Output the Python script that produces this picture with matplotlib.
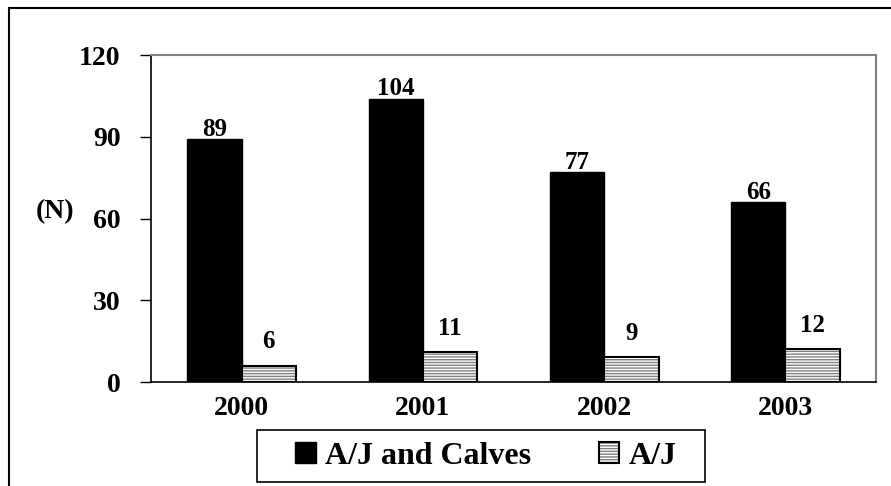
import numpy as np
import matplotlib
matplotlib.use('Agg')
import matplotlib.pyplot as plt
from matplotlib.lines import Line2D
from matplotlib.patches import Rectangle

years = ['2000', '2001', '2002', '2003']
calves = [89, 104, 77, 66]
aj = [6, 11, 9, 12]
yticks = [0, 30, 60, 90, 120]

plt.rcParams['font.family'] = 'Liberation Serif'
plt.rcParams['font.weight'] = 'bold'
plt.rcParams['hatch.linewidth'] = 1.0

fig = plt.figure(figsize=(8.91, 4.86), dpi=100)
ax = fig.add_axes([151/891, 1 - 382/486, (876 - 151)/891, (382 - 55)/486])

x = np.arange(len(years))
w = 0.3
b1 = ax.bar(x - w/2, calves, w, color='black', edgecolor='black', linewidth=1)
b2h = ax.bar(x + w/2, aj, w, color='white', edgecolor='#808080', hatch='------', linewidth=0)
b2 = ax.bar(x + w/2, aj, w, fill=False, edgecolor='black', linewidth=1.5)

ax.bar_label(b1, labels=[str(v) for v in calves], padding=-1, fontsize=18, fontweight='bold')
ax.bar_label(b2, labels=[str(v) for v in aj], padding=9, fontsize=18, fontweight='bold')

ax.set_xlim(-0.5, len(years) - 0.5)
ax.set_ylim(0, 120)
ax.set_yticks(yticks)
ax.set_xticks(x)
ax.set_xticklabels(years)
ax.tick_params(axis='x', length=0, pad=10, labelsize=20)
ax.tick_params(axis='y', length=8, width=1, pad=14, labelsize=20)

ax.spines['top'].set_color('#808080')
ax.spines['right'].set_color('#808080')
ax.spines['top'].set_linewidth(1.5)
ax.spines['right'].set_linewidth(1.5)
ax.spines['left'].set_linewidth(1.2)
ax.spines['bottom'].set_linewidth(1.2)

fig.text(55/891, 1 - 212/486, '(N)', fontsize=20, fontweight='bold', ha='center', va='center')

leg = fig.legend([b1[0], (b2h[0], b2[0])], ['A/J and Calves', 'A/J'],
                 loc='center', bbox_to_anchor=(486/891, 1 - 456/486), ncol=2,
                 fontsize=23, frameon=False, handlelength=0.65,
                 handleheight=0.65, handletextpad=0.3, columnspacing=2.1,
                 borderpad=0.2)

# legend frame
fig.add_artist(Rectangle((257/891, 1 - 482/486), (705 - 257)/891, (482 - 430)/486,
                         fill=False, edgecolor='black', linewidth=1.2,
                         transform=fig.transFigure))

# outer chart border
fig.add_artist(Line2D([9/891, 1.0], [1 - 8/486, 1 - 8/486], color='black', linewidth=1.5,
                      transform=fig.transFigure))
fig.add_artist(Line2D([9/891, 9/891], [0.0, 1 - 8/486], color='black', linewidth=1.5,
                      transform=fig.transFigure))

fig.savefig('out.png', dpi=100)
